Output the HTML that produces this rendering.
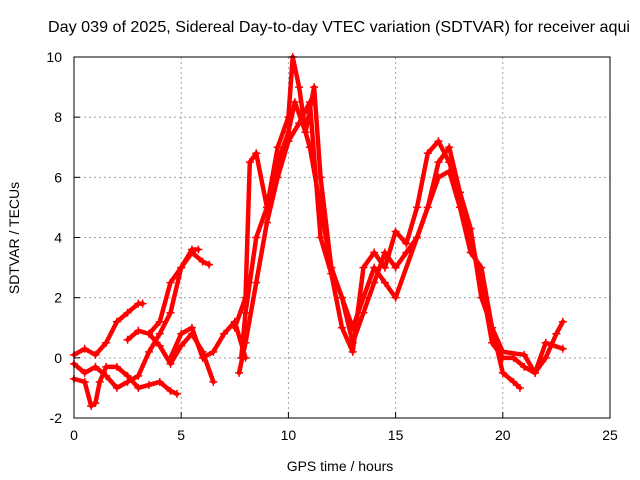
<!DOCTYPE html>
<html><head><meta charset="utf-8">
<style>
body{margin:0;background:#fff;}
svg{display:block;font-family:"Liberation Sans",sans-serif;}
</style></head>
<body>
<svg id="chart" width="640" height="480">
<text x="48" y="32" font-size="16" textLength="582" lengthAdjust="spacingAndGlyphs">Day 039 of 2025, Sidereal Day-to-day VTEC variation (SDTVAR) for receiver aqui</text>
<text x="340" y="471" font-size="14" text-anchor="middle">GPS time / hours</text>
<text x="0" y="0" font-size="14" text-anchor="middle" transform="translate(19,238) rotate(-90)">SDTVAR / TECUs</text>
<g id="grid"></g>
<g id="series"></g>
<rect x="74" y="57" width="536" height="361" fill="none" stroke="#000"/>
</svg>
<script>
const xTicks=[0,5,10,15,20,25];
const yTicks=[-2,0,2,4,6,8,10];
const trackA=[[0,-0.7],[0.5,-0.8],[0.8,-1.6],[1.0,-1.5],[1.2,-0.8],[1.5,-0.3],[2,-0.3],[2.5,-0.6],[3,-1.0],[3.5,-0.9],[4,-0.8],[4.5,-1.1],[4.8,-1.2]];
const trackB=[[0,0.1],[0.5,0.3],[1,0.1],[1.5,0.5],[2,1.2],[2.5,1.5],[3,1.8],[3.2,1.8]];
const trackC=[[0,-0.2],[0.5,-0.5],[1,-0.3],[1.5,-0.6],[2,-1.0],[2.5,-0.8],[3,-0.6],[3.5,0.2],[4,0.8],[4.5,1.5],[5,3.0],[5.5,3.6],[5.8,3.6]];
const trackD=[[2.5,0.6],[3,0.9],[3.5,0.8],[4,1.2],[4.5,2.5],[5,3.0],[5.5,3.5],[6,3.2],[6.3,3.1]];
const trackE=[[3.5,0.8],[4,0.4],[4.5,-0.2],[5,0.4],[5.5,0.8],[6,0.2],[6.5,-0.8]];
const trackF=[[4.5,0.0],[5,0.8],[5.5,1.0],[6,0.0],[6.5,0.2],[7,0.8],[7.5,1.2],[8,0.0]];
const trackMain=[[7.5,1.0],[8,2.0],[8.2,6.5],[8.5,6.8],[9,5],[9.5,7],[10,8],[10.2,10],[10.5,9],[10.8,7.5],[11.2,9],[11.5,6],[12,3],[12.5,2],[13,0.5],[13.5,1.5],[14,2.5],[14.5,3.5],[15,3],[15.5,3.5],[16,4],[16.5,5],[17,6.5],[17.5,7],[18,5.5],[18.5,4],[19,2.5],[19.5,0.5],[20,0],[20.5,0],[21,-0.3],[21.5,-0.5],[22,0],[22.5,0.8],[22.8,1.2]];
const trackG=[[7.8,0],[8,1.5],[8.5,4],[9,5],[9.5,6.5],[10,7.5],[10.3,8.5],[10.8,7.5],[11,7],[11.5,5],[12,3],[12.5,2],[13,1],[13.5,2],[14,3],[14.5,2.5],[15,2],[16,4],[17,6],[17.5,6.2],[18,5],[18.5,3.5],[19,3],[19.5,1],[20,-0.5],[20.5,-0.8],[20.8,-1.0]];
const trackH=[[7.7,-0.5],[8,0.5],[8.5,2.5],[9,4.5],[9.5,6],[10,7.2],[10.5,7.8],[11,8.5],[11.5,4],[12,2.8],[12.5,1],[13,0.2],[13.5,3],[14,3.5],[14.5,3],[15,4.2],[15.5,3.8],[16,5],[16.5,6.8],[17,7.2],[17.5,6.5],[18,5.5],[18.5,4.3],[19,2],[19.5,1],[20,0.2],[21,0.1],[21.5,-0.5],[22,0.5],[22.8,0.3]];
const tracks=[trackA,trackB,trackC,trackD,trackE,trackF,trackMain,trackG,trackH];
const X0=74,X1=610,Y0=418,Y1=57;
const sx=v=>X0+(v-0)/(25-0)*(X1-X0);
const sy=v=>Y0-(v+2)/(12)*(Y0-Y1);
const NS="http://www.w3.org/2000/svg";
const grid=document.getElementById('grid');
function mk(tag,attrs,parent){const e=document.createElementNS(NS,tag);for(const k in attrs)e.setAttribute(k,attrs[k]);parent.appendChild(e);return e;}
xTicks.forEach(t=>{
  const x=sx(t);
  if(t>0&&t<25){const l=mk('line',{x1:x,x2:x,y1:Y1,y2:Y0,stroke:'#a0a0a0','stroke-dasharray':'2,3'},grid);
  
  }
  const tk=mk('line',{x1:x,x2:x,y1:Y0,y2:Y0-6,stroke:'#000'},grid);
  
  
  const tx=mk('text',{x:x,y:Y0+22,'font-size':14,'text-anchor':'middle'},grid);tx.textContent=t;
  
  
});
yTicks.forEach(t=>{
  const y=sy(t);
  if(t>-2&&t<10){const l=mk('line',{x1:X0,x2:X1,y1:y,y2:y,stroke:'#a0a0a0','stroke-dasharray':'2,3'},grid);
  
  }
  const tk=mk('line',{x1:X0,x2:X0+6,y1:y,y2:y,stroke:'#000'},grid);
  
  
  const tx=mk('text',{x:X0-12,y:y+5,'font-size':14,'text-anchor':'end'},grid);tx.textContent=t;
  
  
});
const sg=document.getElementById('series');
tracks.forEach((tr,i)=>{
  const g=mk('g',{},sg);
  
  
  const pts=tr.map(p=>sx(p[0])+','+sy(p[1])).join(' ');
  const pl=mk('polyline',{points:pts,fill:'none',stroke:'#ff0000','stroke-width':4.5,'stroke-linejoin':'round','stroke-linecap':'round'},g);
  
  
  tr.forEach(p=>{
    const x=sx(p[0]),y=sy(p[1]);
    const m=mk('path',{d:`M${x-4},${y}H${x+4}M${x},${y-4}V${y+4}`,stroke:'#ff0000','stroke-width':1.5},g);
    
    
  });
});
</script>
</body></html>
